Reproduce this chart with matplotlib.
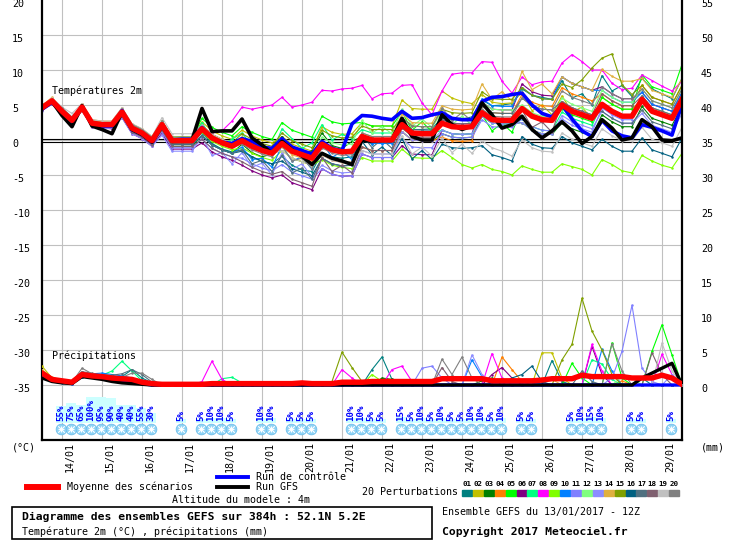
import numpy as np
import matplotlib.pyplot as plt
from matplotlib.transforms import blended_transform_factory
from matplotlib.patches import Rectangle

plt.rcParams['font.family'] = ['DejaVu Sans Mono']

# pas de 6h, de 13/01 12Z a 29/01 12Z (65 echeances)
steps = np.arange(65)
day_ticks = np.arange(2, 64, 4)
day_labels = ['14/01', '15/01', '16/01', '17/01', '18/01', '19/01', '20/01', '21/01',
              '22/01', '23/01', '24/01', '25/01', '26/01', '27/01', '28/01', '29/01']

# temperatures 2m (degC)
mean_t = [4.6,5.6,4.1,2.8, 4.7,2.4,2.2,2.2, 4.0,1.7,1.0,-0.1, 2.2,-0.1,-0.1,-0.1, 1.6,0.3,-0.4,-0.9, -0.1,-0.9,-1.5,-1.9, -0.5,-1.6,-2.1,-2.6, -0.6,-1.4,-1.7,-1.6, 0.5,0.0,0.0,0.0, 2.2,1.0,0.9,0.9, 2.4,1.9,1.8,1.9, 3.9,2.9,2.8,2.8, 4.5,3.4,2.9,2.8, 5.0,4.1,3.6,3.1, 5.1,4.1,3.4,3.4, 5.8,4.1,3.6,3.1, 5.8]
ctrl_t = [4.4,5.4,4.0,2.6, 4.8,2.2,2.0,2.0, 4.2,1.5,0.8,-0.3, 2.0,0.0,0.1,0.1, 1.8,0.2,-0.3,-0.5, 0.2,-0.2,-1.0,-1.2, 0.2,-1.0,-1.5,-2.0, -0.2,-1.2,-1.5,2.3, 3.5,3.4,3.1,2.9, 4.1,3.1,3.2,3.6, 3.9,3.1,2.9,2.9, 5.5,6.1,6.2,6.5, 6.7,5.0,3.8,3.3, 5.0,3.0,1.3,0.5, 2.8,1.3,0.6,0.3, 2.2,1.8,1.3,0.7, 5.2]
gfs_t = [4.5,5.5,3.5,1.9, 4.9,2.0,1.5,0.9, 4.0,1.5,0.8,-0.3, 2.0,-0.2,0.0,0.0, 4.5,1.2,1.3,1.3, 3.0,0.3,-0.7,-1.9, -0.2,-1.4,-2.3,-3.5, -1.9,-2.6,-3.0,-3.5, 0.0,-0.2,0.0,0.0, 3.1,0.5,0.0,0.0, 3.6,2.2,1.5,2.0, 5.3,3.6,1.7,2.2, 3.4,1.5,0.3,1.3, 2.6,1.3,-0.5,0.5, 2.9,1.7,0.0,0.3, 2.9,1.9,0.0,-0.1, 0.3]

t01 = [4.8,5.7,4.4,3.0, 5.0,2.8,2.4,2.5, 4.1,1.6,1.0,0.0, 2.0,-0.5,-0.4,-0.4, 1.0,-0.5,-1.3,-1.7, -1.4,-2.4,-3.1,-3.4, -2.3,-3.6,-4.3,-4.5, -1.8,-2.4,-2.6,-2.4, -0.1,-0.5,-0.4,-0.3, 2.5,1.5,1.5,1.6, 3.2,2.9,3.0,3.3, 5.7,4.9,5.0,5.2, 7.3,6.4,6.1,5.8, 8.5,6.0,6.6,5.0, 9.2,7.0,7.8,6.2, 8.8,7.3,6.6,5.9, 8.8]
t02 = [5.0,5.9,4.5,3.2, 4.9,2.6,2.4,2.5, 4.5,2.2,1.5,0.4, 2.7,0.4,0.5,0.4, 2.6,1.3,0.6,0.1, 1.4,0.6,0.0,-0.4, 0.5,-0.6,-1.1,-1.6, 1.9,1.1,0.8,0.9, 2.5,2.0,2.0,2.0, 5.7,4.5,4.4,4.4, 7.0,6.0,5.5,5.2, 6.5,5.4,5.2,5.3, 6.8,4.2,5.0,3.6, 6.3,4.0,4.7,3.0, 6.1,5.1,4.4,4.4, 5.8,4.1,3.6,3.1, 5.5]
t03 = [4.4,5.4,3.9,2.6, 4.4,2.1,1.9,1.9, 3.5,1.2,0.5,-0.6, 1.4,-0.9,-0.9,-0.9, 0.6,-0.7,-1.4,-1.9, -0.6,-1.8,-2.4,-2.0, 0.5,-1.5,-2.2,-1.5, 1.0,-0.8,-1.2,-0.2, 0.5,0.0,0.0,0.0, 1.2,0.0,-0.1,-0.1, 0.9,0.4,0.3,0.4, 3.4,2.4,2.3,2.3, 2.5,1.4,0.9,0.8, 2.5,1.6,1.1,0.6, 3.6,2.6,1.9,1.9, 4.8,3.1,2.6,2.1, 4.8]
t04 = [4.9,5.9,4.4,3.1, 5.1,2.8,2.6,2.6, 4.3,2.0,1.3,0.2, 2.2,-0.1,-0.1,-0.1, 2.1,0.8,0.1,-0.4, -0.1,-0.9,-1.5,-1.9, -1.5,-2.6,-3.1,-3.6, -2.1,-2.9,-3.2,-3.1, -1.0,-1.5,-1.5,-1.5, 1.2,0.0,-0.1,-0.1, 0.4,-0.1,-0.2,-0.1, 4.9,3.9,3.8,3.8, 6.5,5.4,4.9,4.8, 7.5,6.6,6.1,5.6, 6.6,5.6,4.9,4.9, 7.8,6.1,5.6,5.1, 7.8]
t05 = [4.6,5.6,4.1,2.8, 4.9,2.6,2.4,2.4, 4.3,2.0,1.3,0.2, 2.7,0.4,0.4,0.4, 3.1,1.8,1.1,0.6, 1.9,1.1,0.5,0.1, 2.5,1.4,0.9,0.4, 3.4,2.6,2.3,2.4, 2.5,2.0,2.0,2.0, 4.0,1.4,2.6,1.2, 2.4,1.9,1.8,1.9, 3.6,1.3,2.4,1.1, 4.5,3.4,2.9,2.8, 4.5,3.6,3.1,2.6, 6.1,5.1,4.4,4.4, 9.3,7.6,7.1,6.6, 10.8]
t06 = [4.3,5.1,3.6,2.3, 4.2,1.9,1.7,1.6, 3.2,0.9,0.2,-0.9, 1.0,-1.3,-1.3,-1.3, -0.4,-1.7,-2.4,-2.9, -3.6,-4.4,-5.0,-5.4, -5.0,-6.1,-6.6,-7.1, -4.1,-4.9,-5.2,-5.1, -2.0,-2.5,-2.5,-2.5, -0.8,-2.0,-2.1,-2.1, 1.4,0.9,0.8,0.9, 5.4,4.4,4.3,4.3, 8.0,6.9,6.4,6.3, 9.0,8.1,7.6,7.1, 7.6,6.6,5.9,5.9, 6.8,5.1,4.6,4.1, 6.8]
t07 = [4.7,5.8,4.1,3.1, 4.9,2.6,2.4,2.4, 4.0,1.7,1.0,-0.1, 2.5,0.2,0.2,0.2, 2.5,0.2,-0.6,0.1, 1.0,-0.8,-0.6,-1.8, 1.6,0.2,-1.2,-0.4, 2.2,0.0,0.8,0.2, 1.5,1.0,1.0,1.0, 2.2,1.0,0.9,0.9, 1.4,0.9,0.8,0.9, 3.4,2.4,2.3,2.3, 3.0,1.9,1.4,1.3, 4.0,3.1,2.6,2.1, 5.1,4.1,3.4,3.4, 6.3,4.6,4.1,3.6, 6.3]
t08 = [4.5,5.5,4.0,2.9, 4.6,2.3,2.1,2.3, 3.9,1.8,1.1,0.1, 2.3,0.0,0.1,0.2, 1.8,1.0,1.3,2.7, 4.7,4.4,4.7,5.0, 6.1,4.7,5.0,5.4, 7.1,7.0,7.3,7.4, 7.8,5.9,6.6,6.7, 7.8,7.9,5.3,3.6, 7.0,9.4,9.6,9.6, 11.2,11.1,8.4,6.7, 9.0,7.9,8.3,8.4, 11.0,12.2,11.2,10.0, 10.0,8.1,7.2,7.4, 9.3,8.5,7.7,7.0, 8.4]
t09 = [4.8,5.6,3.8,2.8, 4.2,2.4,2.0,2.2, 3.7,1.7,0.7,-0.1, 2.2,-0.1,-0.1,-0.1, 1.1,-0.2,-0.9,-1.4, -1.1,-1.9,-2.5,-2.9, -1.5,-2.6,-3.1,-3.6, -2.8,-3.6,-3.9,-4.1, -2.5,-3.0,-3.0,-3.0, -1.3,-2.5,-2.6,-2.6, -1.5,-2.5,-3.5,-4.0, -3.5,-4.2,-4.5,-5.0, -3.7,-4.2,-4.6,-4.6, -3.4,-3.8,-4.2,-5.0, -2.8,-3.5,-4.4,-4.7, -2.2,-3.0,-3.6,-4.0, -1.9]
t10 = [4.6,5.5,4.0,2.7, 4.5,2.2,2.0,2.0, 3.7,1.4,0.7,-0.4, 1.7,-0.6,-0.6,-0.6, 0.6,-0.7,-1.4,-1.9, -1.0,-2.8,-2.6,-3.9, -0.8,-3.0,-2.4,-4.2, -0.3,-2.5,-1.6,-2.8, 0.0,-0.5,-0.5,-0.5, 2.2,1.0,0.9,0.9, 2.9,2.4,2.3,2.4, 5.9,4.9,4.8,4.8, 7.5,6.4,5.9,5.8, 9.0,8.1,7.6,7.1, 7.1,6.1,5.4,5.4, 6.8,5.1,4.6,4.1, 6.8]
t11 = [4.4,5.3,3.8,2.5, 4.4,2.1,1.9,1.9, 3.5,1.2,0.5,-0.6, 1.2,-1.1,-1.1,-1.1, 0.1,-1.2,-1.9,-2.4, -2.6,-3.4,-4.0,-4.4, -3.5,-4.6,-5.1,-5.6, -4.1,-4.9,-5.2,-5.1, -2.0,-2.5,-2.5,-2.5, 0.2,-1.0,-1.1,-1.1, 0.9,0.4,0.3,0.4, 2.9,1.9,1.8,1.8, 3.0,1.9,1.4,1.3, 3.0,2.1,1.6,1.1, 4.6,3.6,2.9,2.9, 5.8,4.1,3.6,3.1, 5.8]
t12 = [4.8,5.6,4.3,3.0, 4.7,2.4,2.2,2.2, 4.2,1.9,1.2,0.1, 2.7,0.4,0.4,0.4, 1.6,0.3,-0.4,-0.9, 0.4,-0.4,-1.0,-1.4, 0.0,-1.1,-1.6,-2.1, 0.4,-0.4,-0.7,-0.6, 2.8,1.0,1.9,0.9, 4.4,2.0,3.0,1.8, 4.0,2.2,3.4,2.1, 5.4,4.4,4.3,4.3, 5.0,3.9,3.4,3.3, 6.0,5.1,4.6,4.1, 7.1,6.1,5.4,5.4, 7.3,5.6,5.1,4.6, 7.3]
t13 = [4.2,5.1,3.6,2.3, 4.2,1.9,1.6,1.7, 3.2,0.9,0.2,-0.9, 0.7,-1.6,-1.6,-1.6, 0.4,-2.2,-1.8,-3.4, -1.8,-3.9,-3.3,-5.0, -1.8,-4.2,-3.4,-5.3, -3.6,-4.4,-4.7,-4.6, -1.5,-2.0,-2.0,-2.0, 1.2,0.0,-0.1,-0.1, 1.4,0.9,0.8,0.9, 3.4,2.4,2.3,2.3, 2.5,1.4,0.9,0.8, 3.5,2.6,2.1,1.6, 4.1,3.1,2.4,2.4, 3.8,2.1,1.6,1.1, 3.8]
t14 = [4.9,6.1,4.4,3.1, 5.2,2.9,2.7,2.7, 4.6,2.3,1.6,0.5, 2.7,0.4,0.4,0.4, 1.6,0.3,-0.4,-0.9, 0.4,-0.4,-1.0,-1.4, -1.0,-2.1,-2.6,-3.1, -0.6,-1.4,-1.7,-1.6, 1.0,0.5,0.5,0.5, 3.7,2.5,2.4,2.4, 4.9,4.4,4.3,4.4, 8.0,5.8,6.9,5.6, 9.8,7.2,8.0,6.6, 9.0,8.1,7.6,7.1, 10.1,9.1,8.4,8.4, 8.8,7.1,6.6,6.1, 8.8]
t15 = [4.6,5.8,4.1,2.8, 4.9,2.6,2.4,2.4, 4.0,1.7,1.0,-0.1, 1.9,-0.4,-0.4,-0.4, 2.1,0.8,0.1,-0.4, 0.9,0.1,-0.5,-0.9, 1.0,-0.1,-0.6,-1.1, 1.4,0.6,0.3,0.4, 2.0,1.5,1.5,1.5, 3.2,2.0,1.9,1.9, 4.4,3.9,3.8,3.9, 6.9,5.9,5.8,5.8, 7.5,6.4,5.9,5.8, 8.0,7.5,8.6,10.3, 11.7,12.3,7.9,6.5, 7.8,6.1,5.6,5.1, 7.8]
t16 = [4.4,5.4,3.6,2.6, 4.5,2.2,1.7,2.0, 3.5,1.2,0.5,-0.6, 1.7,-0.6,-0.6,-0.6, 0.6,-0.7,-1.4,-1.9, -1.6,-2.4,-3.0,-3.4, -3.0,-4.1,-4.6,-5.1, -2.6,-3.4,-3.7,-3.6, -0.2,-2.1,-1.0,-2.2, 0.2,-2.7,-1.5,-2.8, -0.6,-1.1,-1.2,-1.1, -0.8,-2.1,-2.5,-3.0, 0.5,-0.6,-1.1,-1.2, 0.5,-0.4,-0.9,-1.4, 0.1,-0.9,-1.6,-1.6, 0.3,-1.4,-1.9,-2.4, 0.3]
t17 = [4.6,5.4,4.1,2.6, 4.5,2.2,2.0,2.0, 3.7,1.4,0.7,-0.4, 1.7,-0.6,-0.6,-0.6, 0.6,-0.7,-1.4,-1.9, -1.4,-3.4,-2.9,-4.5, -2.2,-4.7,-4.0,-5.6, -2.6,-3.4,-3.7,-3.6, 0.8,-1.1,0.1,-1.2, 2.7,1.5,1.4,1.4, 2.4,1.9,1.8,1.9, 4.9,3.9,3.8,3.8, 6.0,4.9,4.4,4.3, 5.5,4.6,4.1,3.6, 4.1,3.1,2.4,2.4, 4.3,2.6,2.1,1.6, 4.3]
t18 = [4.3,5.2,3.8,2.5, 4.3,2.0,1.8,1.8, 3.4,1.1,0.4,-0.7, 1.4,-0.9,-0.9,-0.9, 0.1,-1.2,-1.9,-2.4, -3.1,-3.9,-4.5,-4.9, -4.5,-5.6,-6.1,-6.6, -2.5,-4.5,-3.6,-4.7, -1.0,-1.5,-1.5,-1.5, 1.7,0.5,0.4,0.4, 2.9,2.4,2.3,2.4, 3.9,2.9,2.8,2.8, 4.3,1.8,2.6,1.1, 5.5,4.6,4.1,3.6, 6.6,5.6,4.9,4.9, 6.3,4.6,4.1,3.6, 6.3]
t19 = [4.8,6.0,4.7,3.8, 5.2,2.9,2.7,2.7, 4.6,2.3,1.6,0.5, 3.2,0.9,0.9,0.9, 2.1,0.8,0.1,-0.4, -0.1,-0.9,-1.5,-1.9, -1.5,-2.6,-3.1,-3.6, -2.1,-2.9,-3.2,-3.1, -1.5,-2.0,-2.0,-2.0, 0.6,-2.0,-1.0,-2.3, 0.3,-1.8,-0.6,-1.9, -0.1,-1.1,-1.6,-2.3, 0.0,-1.1,-1.6,-1.7, 1.0,0.1,-0.4,-0.9, 1.6,0.6,-0.1,-0.1, 1.8,0.1,-0.4,-0.9, 1.8]
t20 = [4.7,5.8,4.6,3.3, 4.9,2.6,2.4,2.4, 4.5,2.2,1.5,0.4, 2.7,0.4,0.4,0.4, 1.6,0.3,-0.4,-0.9, -0.6,-1.4,-2.0,-2.4, -0.8,-3.0,-2.6,-4.1, -1.1,-1.9,-2.2,-2.1, 1.0,0.5,0.5,0.5, 3.2,2.0,1.9,1.9, 4.6,2.8,3.9,2.7, 4.4,3.4,3.3,3.3, 6.0,4.9,4.4,4.3, 7.0,6.1,5.6,5.1, 7.6,6.6,5.9,5.9, 7.3,5.6,5.1,4.6, 7.3]

# precipitations (mm) : echeance -> valeur, 0 ailleurs
mean_p = [1.7,0.8,0.6,0.4, 1.5,1.3,1.2,1.0, 0.9,0.8,0.4,0.2, 0.1,0.1,0.1,0.1, 0.1,0.2,0.2,0.2, 0.2,0.2,0.2,0.2, 0.2,0.2,0.3,0.2, 0.2,0.2,0.4,0.4, 0.4,0.5,0.5,0.5, 0.5,0.5,0.5,0.5, 0.9,0.9,0.9,0.9, 0.9,0.6,0.6,0.6, 0.6,0.6,0.7,0.9, 0.9,0.9,1.4,1.2, 1.2,1.2,1.2,1.0, 1.0,1.0,1.4,1.0, 0.1]
ctrl_p = {0:1.2, 1:0.6, 2:0.4, 3:0.3, 4:1.3, 5:1.2, 6:1.0, 7:0.8, 8:0.6, 9:0.5, 10:0.2}
gfs_p = {0:1.0, 1:0.5, 2:0.3, 3:0.2, 4:1.2, 5:1.0, 6:0.8, 7:0.5, 8:0.3, 9:0.2, 10:0.1, 60:1.0, 61:1.7, 62:2.4, 63:3.1}
pr01 = {0:1.6,1:0.8,2:0.4,3:0.5,4:1.8,5:1.2,6:1.3,7:0.9,8:1.2,9:2.2,10:1.0,11:0.3, 33:2.2,34:4.0,35:0.8, 51:3.5,52:0.5, 60:1.0}
pr02 = {0:2.7,1:1.0,2:0.6,3:0.3,4:1.4,5:1.5,6:1.1,7:0.8,8:0.6,9:0.5,10:0.2, 50:4.6,51:4.6,52:1.0}
pr03 = {0:1.5,1:0.7,2:0.5,3:0.4,4:1.2,5:1.6,6:1.4,7:1.2,8:0.7,9:0.4,10:0.2, 34:1.0,35:0.8, 44:0.6,45:1.0}
pr04 = {0:1.9,1:0.9,2:0.6,3:0.3,4:1.5,5:1.3,6:1.0,7:0.9,8:0.8,9:0.5,10:0.3, 46:4.0,47:2.2,48:0.5, 58:0.6}
pr05 = {0:1.4,1:0.6,2:0.5,3:0.5,4:1.7,5:1.4,6:1.3,7:1.1,8:0.9,9:0.7,10:0.3, 53:3.1,54:1.0, 57:6.0,58:1.0, 61:4.8,62:8.6,63:4.3}
pr06 = {0:1.7,1:0.8,2:0.5,3:0.2,4:1.3,5:1.1,6:1.2,7:1.3,8:1.0,9:0.6,10:0.2, 45:1.5,46:2.5,47:1.0, 55:5.5,56:1.5}
pr07 = {0:1.6,1:0.9,2:0.7,3:0.4,4:1.6,5:1.5,6:1.4,7:2.0,8:3.4,9:2.0,10:0.6, 18:0.9,19:1.1,20:0.3, 55:3.6,56:3.0,57:0.8}
pr08 = {0:1.8,1:0.8,2:0.6,3:0.3,4:1.4,5:1.2,6:1.0,7:0.8,8:0.7,9:0.6,10:0.3, 16:0.5,17:3.4,18:0.8, 30:2.2,31:1.0, 35:2.2,36:2.7,37:0.5, 45:4.5,46:1.0, 55:5.8,56:2.0, 62:4.4,63:1.5}
pr09 = {0:2.0,1:1.0,2:0.6,3:0.4,4:1.5,5:1.3,6:1.1,7:0.9,8:0.8,9:0.4,10:0.2, 33:1.5,34:0.5}
pr10 = {0:1.7,1:0.7,2:0.3,3:0.2,4:1.1,5:1.6,6:1.7,7:1.5,8:1.3,9:1.0,10:0.4, 43:3.6,44:1.2, 56:5.1,57:2.0}
pr11 = {0:1.5,1:0.8,2:0.5,3:0.4,4:1.4,5:1.2,6:1.2,7:1.0,8:0.8,9:0.6,10:0.3, 38:2.4,39:2.7,40:1.0, 57:1.0,58:4.8,59:11.4,60:2.4,61:0.5}
pr12 = {0:1.9,1:0.9,2:0.7,3:0.5,4:1.7,5:1.5,6:1.3,7:1.1,8:1.0,9:0.7,10:0.3, 58:1.2,59:1.0}
pr13 = {0:1.6,1:0.8,2:0.4,3:0.3,4:1.3,5:1.3,6:1.1,7:0.9,8:0.9,9:0.8,10:0.4, 43:4.3,44:1.5, 63:1.5}
pr14 = {0:2.2,1:1.1,2:0.7,3:0.4,4:1.6,5:1.4,6:1.2,7:0.9,8:0.7,9:0.5,10:0.2, 50:1.0,51:0.8}
pr15 = {0:1.8,1:0.9,2:0.6,3:0.3,4:1.5,5:1.3,6:1.2,7:1.0,8:0.8,9:0.6,10:0.3, 29:0.5,30:4.7,31:2.5,32:0.5, 52:3.6,53:5.8,54:12.4,55:7.7,56:5.0,57:1.5}
pr16 = {0:1.5,1:0.7,2:0.4,3:0.3,4:1.2,5:1.4,6:1.5,7:1.3,8:1.1,9:0.9,10:0.5, 47:1.0,48:1.5,49:2.7,50:0.5}
pr17 = {0:1.7,1:0.8,2:0.5,3:0.4,4:1.8,5:1.6,6:1.4,7:1.4,8:1.6,9:2.2,10:1.5,11:0.4, 54:2.0,55:0.5}
pr18 = {0:1.6,1:0.8,2:0.6,3:0.5,4:1.9,5:1.7,6:1.3,7:1.0,8:0.9,9:0.9,10:0.7, 40:2.5,41:0.5, 61:4.6,62:1.5}
pr19 = {0:1.8,1:1.0,2:0.7,3:0.4,4:1.5,5:1.3,6:1.2,7:1.1,8:0.8,9:0.6,10:0.3, 62:6.0,63:2.0}
pr20 = {0:1.7,1:0.9,2:0.6,3:0.4,4:2.4,5:1.6,6:1.3,7:1.2,8:1.1,9:1.7,10:1.7,11:0.8, 40:3.7,41:1.5,42:4.0,43:1.0, 57:5.9,58:2.0}

# probabilite de neige (%) et hauteur du fond cyan (echelle mm)
snow_idx = [2, 3, 4, 5, 6, 7, 8, 9, 10, 11, 14, 16, 17, 18, 19, 22, 23, 25, 26, 27,
            31, 32, 33, 34, 36, 37, 38, 39, 40, 41, 42, 43, 44, 45, 46, 48, 49,
            53, 54, 55, 56, 59, 60, 63]
snow_pct = [55, 75, 65, 100, 95, 90, 40, 40, 55, 30, 5, 5, 10, 10, 5, 10, 10, 5, 5, 5,
            10, 10, 5, 5, 15, 5, 10, 5, 10, 5, 5, 10, 10, 5, 10, 5, 5,
            5, 10, 15, 10, 5, 5, 5]
snow_bar = [2.4, 2.9, 2.6, 3.7, 3.7, 3.6, 2.6, 2.6, 2.1, 1.4, 0.6, 0.6, 0.7, 0.7, 0.6, 0.7, 0.7, 0.6, 0.6, 0.6,
            0.7, 0.7, 0.6, 0.6, 0.9, 0.6, 0.7, 0.6, 0.7, 0.6, 0.6, 0.7, 0.7, 0.6, 0.7, 0.6, 0.6,
            0.6, 0.7, 0.9, 0.7, 0.6, 0.6, 0.6]

pert_colors = ['#008080', '#c0c000', '#008000', '#ff8000', '#00ff00', '#800080', '#00ff80',
               '#ff00ff', '#80ff00', '#0080ff', '#8080ff', '#80ff80', '#8c8cff', '#e0b040',
               '#80a000', '#006080', '#507080', '#806070', '#c0c0c0', '#808080']

temps = [t01, t02, t03, t04, t05, t06, t07, t08, t09, t10,
         t11, t12, t13, t14, t15, t16, t17, t18, t19, t20]
precs = [pr01, pr02, pr03, pr04, pr05, pr06, pr07, pr08, pr09, pr10,
         pr11, pr12, pr13, pr14, pr15, pr16, pr17, pr18, pr19, pr20]


def full(d):
    arr = np.zeros(len(steps))
    for k, v in d.items():
        arr[k] = v
    return arr


W, H = 730, 540
fig = plt.figure(figsize=(W / 100, H / 100), dpi=100)
fig.patch.set_facecolor('white')
ax = fig.add_axes([42 / W, 100 / H, 640 / W, 440 / H])
ax.set_xlim(0, 64)
ax.set_ylim(-42.857, 20)
ax2 = ax.twinx()
ax2.set_ylim(-7.857, 55)

for a in (ax, ax2):
    a.set_xticks([])
    a.set_yticks([])
    for s in a.spines.values():
        s.set_visible(False)

# grille
for v in range(-35, 20, 5):
    ax.axhline(v, color='#c0c0c0', lw=0.8, zorder=0)
for d in day_ticks:
    ax.axvline(d, color='#c0c0c0', lw=0.8, zorder=0)
ax.axhline(0.1, color='black', lw=0.8, zorder=1)
ax.axhline(-0.25, color='black', lw=0.8, zorder=1)
ax.plot([0, 0], [-42.857, 20], color='black', lw=1.6, clip_on=False, zorder=5)
ax.plot([64, 64], [-42.857, 20], color='black', lw=1.6, clip_on=False, zorder=5)
ax.plot([0, 64], [-42.857, -42.857], color='black', lw=1.6, clip_on=False, zorder=5)

# temperatures
for tv, c in zip(temps, pert_colors):
    ax.plot(steps, tv, color=c, lw=0.8, marker='o', ms=1.8, mew=0, zorder=2)
ax.plot(steps, ctrl_t, color='#0000ff', lw=2.6, zorder=3)
ax.plot(steps, gfs_t, color='black', lw=2.6, zorder=3)
ax.plot(steps, mean_t, color='#ff0000', lw=3.9, zorder=4)

# precipitations (echelle de droite)
for pd_, c in zip(precs, pert_colors):
    ax2.plot(steps, full(pd_), color=c, lw=0.8, marker='o', ms=1.8, mew=0, zorder=2)
ax2.plot(steps, full(ctrl_p), color='#0000ff', lw=2.4, zorder=3)
ax2.plot(steps, full(gfs_p), color='black', lw=2.4, zorder=3)
ax2.plot(steps, mean_p, color='#ff0000', lw=3.9, zorder=4)

# neige : fond cyan, flocons, pourcentages
sx = np.array(snow_idx) - 0.1
ax2.bar(sx, snow_bar, bottom=-5.43, width=1.0, color='#ccffff', zorder=1)
ax2.scatter(sx, np.full(len(sx), -6.29), s=60, color='#8fd3f5', edgecolors='#66bbe8',
            linewidths=0.5, zorder=5)
ax2.scatter(sx, np.full(len(sx), -6.29), s=22, marker='x', color='white', linewidths=0.8, zorder=6)
ax2.scatter(sx, np.full(len(sx), -6.29), s=22, marker='+', color='white', linewidths=0.8, zorder=6)
for x, p in zip(sx, snow_pct):
    ax2.text(x, -5.2, f'{p}%', rotation=90, ha='center', va='bottom', color='#0000ff',
             fontsize=6.6, fontweight='bold', zorder=7)

ax.text(1, 7.0, 'Températures 2m', fontsize=7.2, va='center', ha='left', zorder=6)
ax.text(1, -30.86, 'Précipitations', fontsize=7.2, va='center', ha='left', zorder=6)

# etiquettes d'axes
tl = blended_transform_factory(fig.transFigure, ax.transData)
for v in range(-35, 21, 5):
    ax.text(12 / W, v + 0.15, str(v), transform=tl, ha='left', va='top', fontsize=7.2)
tr = blended_transform_factory(fig.transFigure, ax2.transData)
for v in range(0, 56, 5):
    ax2.text(701 / W, v + 0.15, str(v), transform=tr, ha='left', va='top', fontsize=7.2)
for d, lab in zip(day_ticks, day_labels):
    ax.text(d + 0.8, -43.15, lab, rotation=90, ha='center', va='top', fontsize=7.2)


def ftext(x, y, s, **kw):
    fig.text(x / W, 1 - y / H, s, va='center', ha='left', **kw)


ftext(12, 447, '(°C)', fontsize=7.2)
ftext(701, 447, '(mm)', fontsize=7.2)

# legende
fig.add_artist(plt.Line2D([27 / W, 58 / W], [1 - 487 / H] * 2, color='#ff0000', lw=4.3))
fig.add_artist(plt.Line2D([217 / W, 248 / W], [1 - 477 / H] * 2, color='#0000ff', lw=2.8))
fig.add_artist(plt.Line2D([217 / W, 248 / W], [1 - 487 / H] * 2, color='black', lw=2.8))
ftext(67, 487, 'Moyenne des scénarios', fontsize=7.2)
ftext(256, 477, 'Run de contrôle', fontsize=7.2)
ftext(256, 487, 'Run GFS', fontsize=7.2)
ftext(172, 500, 'Altitude du modele : 4m', fontsize=7.2)
ftext(362, 492, '20 Perturbations', fontsize=7.2)
for k, c in enumerate(pert_colors):
    x0 = 462 + 10.9 * k
    fig.add_artist(Rectangle((x0 / W, 1 - 495.5 / H), 10 / W, 5.5 / H, color=c,
                             transform=fig.transFigure))
    fig.text((x0 + 5) / W, 1 - 484 / H, f'{k + 1:02d}', ha='center', va='center',
             fontsize=5.4, fontweight='bold')

# cartouche
fig.add_artist(Rectangle((12 / W, 1 - 539 / H), 420 / W, 32 / H, fill=False,
                         edgecolor='black', lw=1.2, transform=fig.transFigure))
ftext(22, 517, 'Diagramme des ensembles GEFS sur 384h : 52.1N 5.2E', fontsize=8.2,
      fontweight='bold')
ftext(22, 532, 'Température 2m (°C) , précipitations (mm)', fontsize=7.2)
ftext(442, 512, 'Ensemble GEFS du 13/01/2017 - 12Z', fontsize=7.2)
ftext(442, 532, 'Copyright 2017 Meteociel.fr', fontsize=8.2, fontweight='bold')

fig.savefig('out.png', dpi=100)
